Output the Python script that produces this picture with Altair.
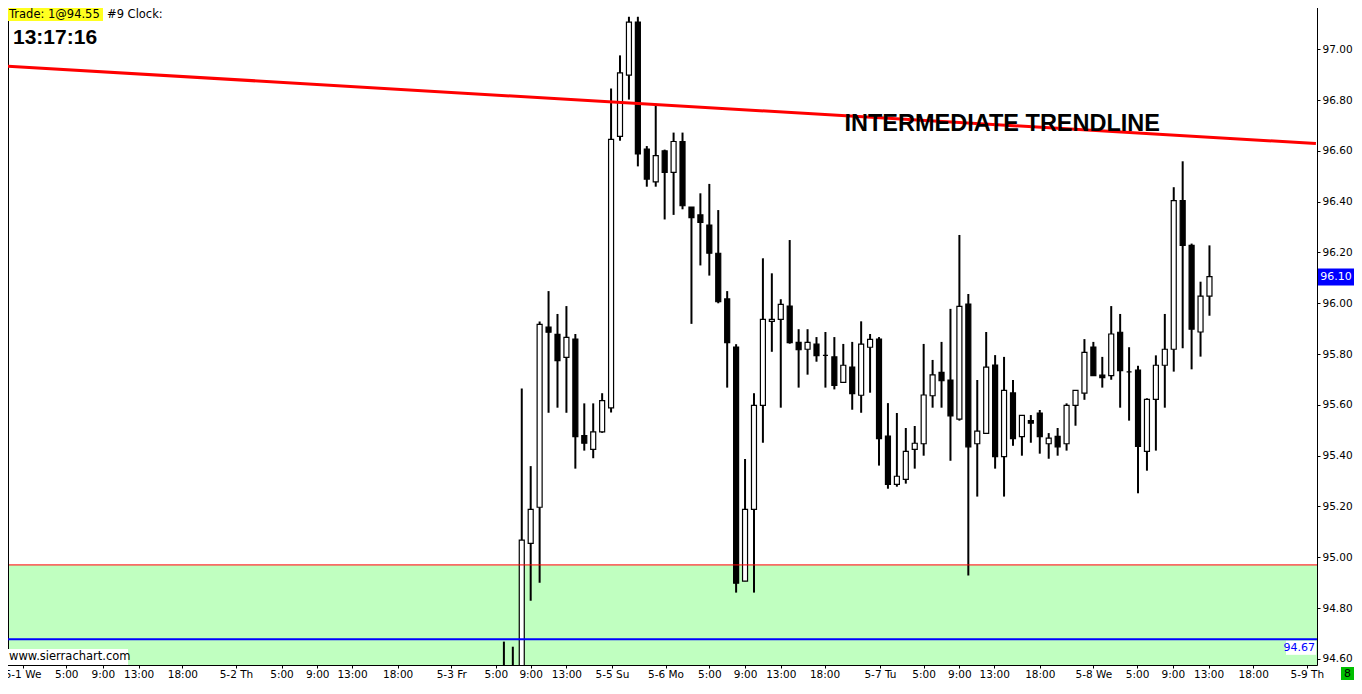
import altair as alt
import pandas as pd

# hourly candles, bar 0 = 5-3 Fr ~6:00
opens = [94.52, 94.50, 94.45, 95.055, 95.197, 95.906, 95.878, 95.787, 95.859, 95.479,
         95.425, 95.494, 95.588, 96.657, 96.898, 97.107, 96.607, 96.478, 96.600, 96.515,
         96.637, 96.379, 96.348, 96.308, 96.197, 96.017, 95.828, 94.906, 95.189, 95.598,
         95.929, 95.937, 95.989, 95.846, 95.819, 95.839, 95.795, 95.789, 95.689, 95.749,
         95.638, 95.827, 95.859, 95.477, 95.287, 95.307, 95.425, 95.447, 95.636, 95.728,
         95.698, 95.544, 95.997, 95.447, 95.488, 95.757, 95.396, 95.647, 95.475, 95.538,
         95.568, 95.447, 95.476, 95.447, 95.598, 95.646, 95.828, 95.717, 95.715, 95.886,
         95.730, 95.737, 95.417, 95.622, 95.756, 95.819, 96.404, 96.228, 95.887, 96.028]
highs = [94.668, 94.648, 95.665, 95.359, 95.928, 96.048, 95.958, 95.989, 95.879, 95.606,
         95.606, 95.646, 96.846, 96.976, 97.128, 97.128, 96.619, 96.785, 96.605, 96.672,
         96.672, 96.379, 96.433, 96.470, 96.367, 96.048, 95.839, 95.387, 95.646, 96.177,
         96.118, 96.016, 96.249, 95.898, 95.898, 95.867, 95.887, 95.867, 95.840, 95.848,
         95.929, 95.879, 95.867, 95.607, 95.568, 95.509, 95.517, 95.840, 95.777, 95.848,
         95.978, 96.269, 96.037, 95.698, 95.887, 95.796, 95.789, 95.698, 95.559, 95.560,
         95.580, 95.489, 95.509, 95.606, 95.657, 95.859, 95.848, 95.789, 95.989, 95.958,
         95.827, 95.754, 95.626, 95.795, 95.958, 96.457, 96.559, 96.235, 96.085, 96.228]
lows = [94.40, 94.40, 94.40, 94.829, 94.900, 95.569, 95.589, 95.569, 95.349, 95.420,
        95.390, 95.490, 95.570, 96.640, 96.802, 96.539, 96.459, 96.459, 96.330, 96.348,
        96.370, 95.919, 96.149, 96.109, 96.000, 95.668, 94.861, 94.906, 94.861, 95.451,
        95.809, 95.589, 95.841, 95.668, 95.719, 95.770, 95.668, 95.661, 95.689, 95.581,
        95.569, 95.648, 95.361, 95.270, 95.278, 95.290, 95.349, 95.400, 95.589, 95.589,
        95.380, 95.538, 94.928, 95.239, 95.488, 95.349, 95.239, 95.439, 95.400, 95.451,
        95.408, 95.388, 95.400, 95.420, 95.518, 95.620, 95.715, 95.668, 95.699, 95.589,
        95.538, 95.252, 95.341, 95.420, 95.589, 95.731, 95.823, 95.740, 95.790, 95.951]
closes = [94.45, 94.46, 95.068, 95.189, 95.917, 95.886, 95.774, 95.866, 95.475, 95.449,
          95.494, 95.617, 96.645, 96.907, 97.107, 96.588, 96.489, 96.581, 96.515, 96.637,
          96.384, 96.337, 96.318, 96.197, 96.006, 95.845, 94.898, 95.189, 95.598, 95.937,
          95.937, 95.996, 95.845, 95.817, 95.846, 95.794, 95.795, 95.677, 95.756, 95.644,
          95.839, 95.858, 95.467, 95.287, 95.319, 95.417, 95.449, 95.639, 95.718, 95.695,
          95.557, 95.988, 95.435, 95.497, 95.749, 95.396, 95.657, 95.467, 95.559, 95.528,
          95.475, 95.469, 95.435, 95.598, 95.657, 95.807, 95.715, 95.707, 95.879, 95.735,
          95.730, 95.437, 95.622, 95.756, 95.819, 96.404, 96.228, 95.898, 96.028, 96.105]

# time axis (in bar units)
tick_pos = [-53.9, -49.0, -44.9, -40.9, -36.0, -30.0, -24.9, -20.9, -17.0, -11.9,
            -5.9, -0.9, 3.0, 7.0, 12.1, 18.1, 23.0, 27.0, 31.0, 35.9,
            42.1, 47.0, 51.0, 54.9, 60.0, 66.0, 70.9, 74.9, 78.9, 83.9, 89.9]
tick_labels = ["5-1 We", "5:00", "9:00", "13:00", "18:00", "5-2 Th", "5:00", "9:00", "13:00", "18:00",
               "5-3 Fr", "5:00", "9:00", "13:00", "5-5 Su", "5-6 Mo", "5:00", "9:00", "13:00", "18:00",
               "5-7 Tu", "5:00", "9:00", "13:00", "18:00", "5-8 We", "5:00", "9:00", "13:00", "18:00", "5-9 Th"]
y_ticks = [94.6, 94.8, 95.0, 95.2, 95.4, 95.6, 95.8, 96.0, 96.2, 96.4, 96.6, 96.8, 97.0]

trend_x = [-55.86, 90.92]
trend_y = [96.934, 96.629]
trend_label = "INTERMEDIATE TRENDLINE"
trend_label_x = 55.8
trend_label_y = 96.706

zone_top = 94.97
level = 94.677
level_text = "94.67"
last_price = 96.10
last_text = "96.10"

W, H = 1317, 665
X_DOMAIN = [-55.86, 90.48]
Y_DOMAIN = [94.576, 97.194]

bars = pd.DataFrame({"bar": list(range(len(opens))), "open": opens, "high": highs,
                     "low": lows, "close": closes})

AX_FONT = "DejaVu Sans"

label_expr = "[" + ",".join(f"'{t}'" for t in tick_labels) + "][indexof([" + \
    ",".join(str(v) for v in tick_pos) + "], datum.value)]"

x_axis = alt.Axis(values=tick_pos, labelExpr=label_expr, grid=False, title="", tickSize=3,
                  labelFont=AX_FONT, labelFontSize=10.5, labelColor="black", tickColor="black",
                  domainColor="black", labelPadding=1, labelOverlap=False, labelFlush=False,
                  labelBound=False)
y_axis = alt.Axis(values=y_ticks, format=".2f", orient="right", grid=False, title="", tickSize=3,
                  labelFont=AX_FONT, labelFontSize=10.5, labelColor="black", tickColor="black",
                  domainColor="black", labelPadding=2, labelOverlap=False)


def xs(field):
    return alt.X(f"{field}:Q", scale=alt.Scale(domain=X_DOMAIN, nice=False, zero=False), axis=x_axis)


def ys(field):
    return alt.Y(f"{field}:Q", scale=alt.Scale(domain=Y_DOMAIN, nice=False, zero=False), axis=y_axis)


zone_df = pd.DataFrame({"top": [zone_top], "bottom": [Y_DOMAIN[0]]})
zone = alt.Chart(zone_df).mark_rect(color="#C0FFC0", clip=True).encode(
    y=ys("top"), y2="bottom")
zone_edge = alt.Chart(zone_df).mark_rule(color="#FF0000", strokeWidth=1).encode(y=ys("top"))

one = pd.DataFrame({"a": [0]})
left_edge = alt.Chart(one).mark_rule(color="black", strokeWidth=1).encode(
    x=alt.value(8.5), y=alt.value(0), y2=alt.value(H))

level_df = pd.DataFrame({"p": [level], "t": [level_text]})
level_line = alt.Chart(level_df).mark_rule(color="#0000FF", strokeWidth=2).encode(y=ys("p"))

trend_df = pd.DataFrame({"x": trend_x, "y": trend_y})
trend = alt.Chart(trend_df).mark_line(color="#FF0000", strokeWidth=3, clip=True).encode(
    x=xs("x"), y=ys("y"))

wicks = alt.Chart(bars).mark_rule(color="black", strokeWidth=2, clip=True).encode(
    x=xs("bar"), y=ys("low"), y2="high")
bodies = alt.Chart(bars).mark_bar(width=5, stroke="black", strokeWidth=1.2, clip=True).encode(
    x=xs("bar"), y=ys("open"), y2="close",
    fill=alt.condition("datum.close >= datum.open", alt.value("white"), alt.value("black")))

tl_df = pd.DataFrame({"x": [trend_label_x], "y": [trend_label_y], "t": [trend_label]})
trend_text = alt.Chart(tl_df).mark_text(font="Liberation Sans", fontWeight="bold", fontSize=23.5,
                                        color="black").encode(x=xs("x"), y=ys("y"), text="t:N")

hdr = alt.Chart(one).mark_rect(color="#FFFF20").encode(
    x=alt.value(0), x2=alt.value(103), y=alt.value(0), y2=alt.value(21))
hdr_t1 = alt.Chart(one).mark_text(align="left", baseline="middle", font=AX_FONT, fontSize=11.5,
                                  color="black", text="Trade: 1@94.55").encode(
    x=alt.value(9), y=alt.value(15))
hdr_t2 = alt.Chart(one).mark_text(align="left", baseline="middle", font=AX_FONT, fontSize=11.5,
                                  color="black", text="#9  Clock:").encode(
    x=alt.value(107), y=alt.value(15))
clock = alt.Chart(one).mark_text(align="left", baseline="middle", font="Liberation Sans",
                                 fontWeight="bold", fontSize=21, color="black",
                                 text="13:17:16").encode(x=alt.value(13), y=alt.value(38))

wm_box = alt.Chart(one).mark_rect(color="white").encode(
    x=alt.value(0), x2=alt.value(128), y=alt.value(H - 16), y2=alt.value(H))
wm = alt.Chart(one).mark_text(align="left", baseline="middle", font=AX_FONT, fontSize=11.5,
                              color="black", text="www.sierrachart.com").encode(
    x=alt.value(9), y=alt.value(H - 8))

lvl_box = alt.Chart(level_df).mark_rect(color="white", height=14, yOffset=8.5).encode(
    x=alt.value(W - 31), x2=alt.value(W - 1), y=ys("p"))
lvl_txt = alt.Chart(level_df).mark_text(align="right", baseline="middle", font=AX_FONT,
                                        fontSize=11, color="#0000FF", dy=8.5).encode(
    x=alt.value(W - 2), y=ys("p"), text="t:N")

last_df = pd.DataFrame({"p": [last_price], "t": [last_text]})
last_box = alt.Chart(last_df).mark_rect(color="#0000FF", height=17, yOffset=-1).encode(
    x=alt.value(W + 1), x2=alt.value(W + 37), y=ys("p"))
last_txt = alt.Chart(last_df).mark_text(align="center", baseline="middle", font=AX_FONT,
                                        fontSize=11, color="white", dy=-1).encode(
    x=alt.value(W + 19), y=ys("p"), text="t:N")

g_box = alt.Chart(one).mark_rect(color="#00C000").encode(
    x=alt.value(W + 24), x2=alt.value(W + 37), y=alt.value(H + 2), y2=alt.value(H + 16))
g_txt = alt.Chart(one).mark_text(align="center", baseline="middle", font=AX_FONT, fontSize=11,
                                 color="black", text="8").encode(
    x=alt.value(W + 30.5), y=alt.value(H + 9))

chart = alt.layer(
    zone, wicks, bodies, zone_edge, left_edge, level_line, trend, trend_text,
    hdr, hdr_t1, hdr_t2, clock, wm_box, wm, lvl_box, lvl_txt, last_box, last_txt, g_box, g_txt,
).properties(
    width=W, height=H,
    autosize=alt.AutoSizeParams(type="none"),
    padding={"left": -8, "top": -8, "right": 37, "bottom": 15},
).configure_view(stroke=None).configure(background="white")

chart.save("out.html", embed_options={"renderer": "svg", "actions": False})
